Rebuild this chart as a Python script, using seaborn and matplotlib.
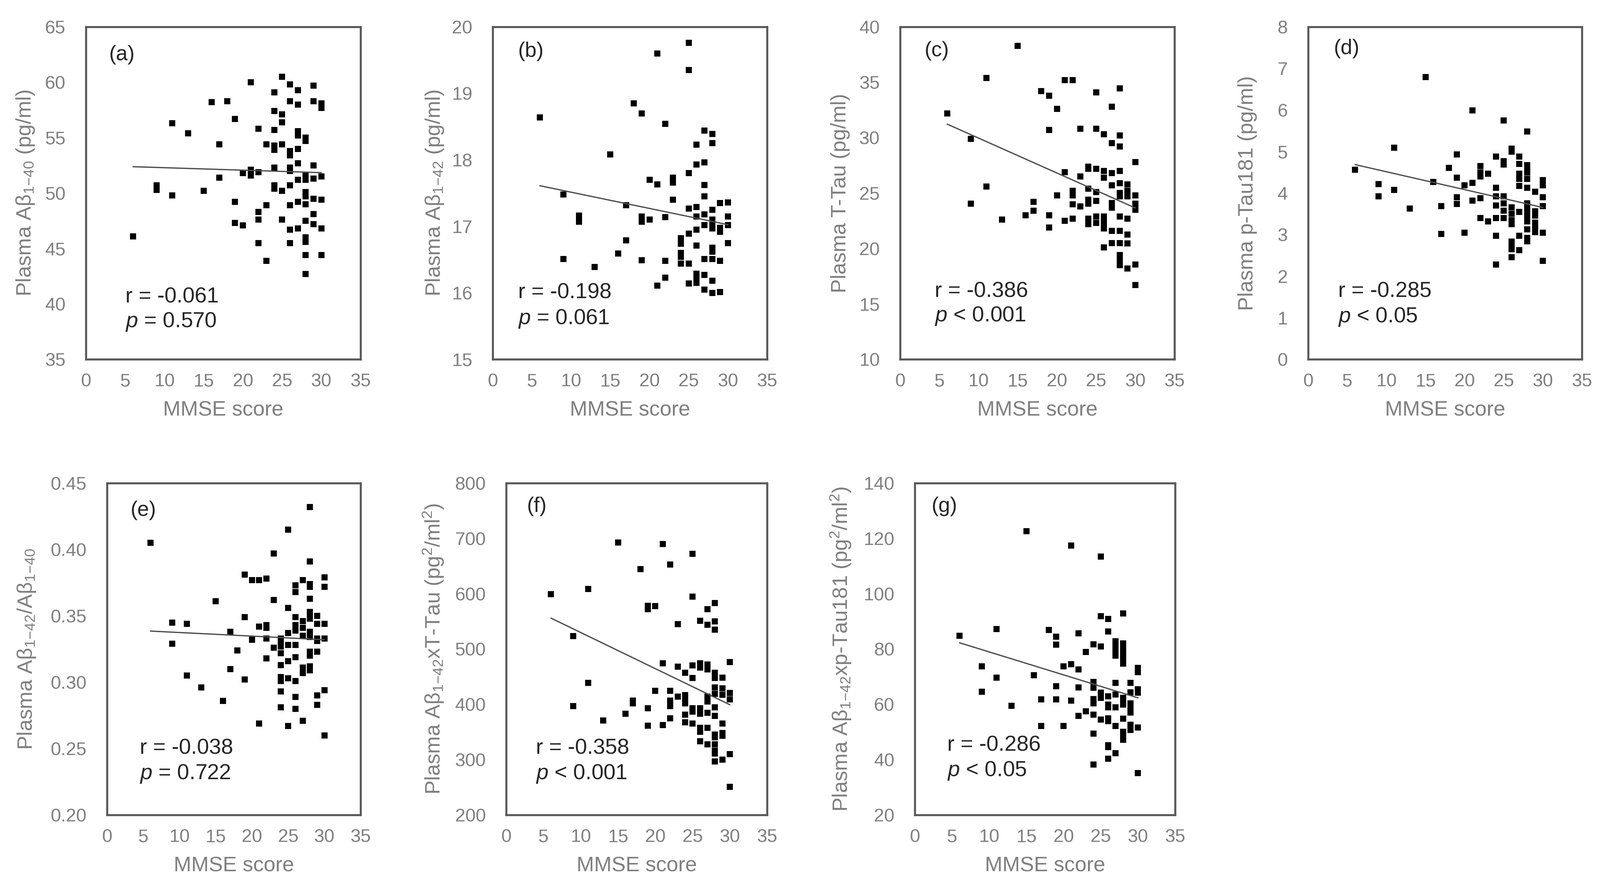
import matplotlib
matplotlib.use('Agg')
import matplotlib.pyplot as plt
import seaborn as sns
import pandas as pd

# ---------------- data (MMSE score -> plasma values) ----------------
abeta40_by_mmse = {
    6: [46.1], 9: [50.7, 50.3], 11: [56.3, 49.8], 13: [55.4], 15: [50.2], 16: [58.2],
    17: [54.4, 51.4], 18: [58.3], 19: [56.7, 49.2, 47.3], 20: [51.8, 47.1],
    21: [60.0, 52.1, 51.8, 51.6], 22: [55.8, 51.9, 48.3, 47.6, 45.5], 23: [54.4, 48.9, 43.9],
    24: [59.1, 57.4, 55.7, 54.3, 53.9, 52.3, 50.7, 50.4],
    25: [60.5, 57.1, 56.4, 54.4, 50.2, 47.6],
    26: [59.8, 58.3, 53.8, 53.4, 52.3, 52.0, 50.7, 48.9, 46.7, 45.5],
    27: [59.3, 58.0, 55.6, 55.2, 54.0, 52.7, 51.2, 49.2, 46.8],
    28: [55.0, 54.7, 51.6, 51.2, 50.1, 49.7, 49.0, 47.5, 46.0, 45.6, 44.4, 42.7],
    29: [59.7, 58.3, 52.5, 51.3, 49.5, 48.1, 47.2],
    30: [58.1, 57.7, 51.5, 49.4, 46.8, 44.4],
}
abeta42_by_mmse = {
    6: [18.64], 9: [17.48, 16.51], 11: [17.16, 17.07], 13: [16.39], 15: [18.08], 16: [16.59],
    17: [17.32, 16.79], 18: [18.85], 19: [18.70, 17.15, 17.07, 16.49], 20: [17.70, 17.10],
    21: [19.60, 17.63, 16.11], 22: [18.54, 17.14, 16.48, 16.23], 23: [17.73, 17.66, 17.40],
    24: [16.82, 16.74, 16.60, 16.54, 16.44],
    25: [19.76, 19.35, 17.80, 17.27, 16.89, 16.44, 16.14],
    26: [18.23, 17.93, 17.29, 17.15, 16.95, 16.71, 16.29, 16.23, 16.15],
    27: [18.44, 17.96, 17.62, 17.45, 17.18, 17.02, 16.51, 16.27, 16.05],
    28: [18.39, 18.25, 17.25, 17.10, 17.03, 16.97, 16.68, 16.62, 16.51, 16.18, 16.00],
    29: [17.35, 16.98, 16.92, 16.48, 16.01],
    30: [17.36, 17.15, 17.02, 16.75],
}
ttau_by_mmse = {
    6: [32.2], 9: [29.9, 24.05], 11: [35.4, 25.6], 13: [22.6], 15: [38.3], 16: [23.0],
    17: [24.2, 23.4], 18: [34.2], 19: [33.8, 30.7, 23.0, 21.9], 20: [32.6, 24.8],
    21: [35.2, 26.9, 22.5], 22: [35.2, 25.2, 24.8, 24.0, 22.7], 23: [30.8, 26.5, 23.8],
    24: [27.4, 27.2, 25.4, 24.4, 24.05, 22.7, 22.2],
    25: [34.1, 30.8, 27.2, 25.1, 24.3, 22.9, 22.3],
    26: [30.3, 27.0, 26.4, 22.9, 22.4, 22.1, 21.8, 20.1],
    27: [32.8, 29.5, 26.8, 25.7, 24.1, 23.7, 21.6, 20.5],
    28: [34.45, 30.2, 29.2, 27.0, 25.9, 25.0, 24.7, 22.9, 21.6, 20.5, 19.4, 18.95, 18.5],
    29: [25.8, 25.2, 24.7, 22.7, 21.25, 20.45, 18.2],
    30: [27.8, 24.8, 24.05, 23.5, 18.55, 16.7],
}
ptau_by_mmse = {
    6: [4.56], 9: [4.22, 3.92], 11: [5.09, 4.08], 13: [3.63], 15: [6.79], 16: [4.27],
    17: [3.69, 3.02], 18: [4.61], 19: [4.93, 4.37, 3.90, 3.74], 20: [4.19, 3.05],
    21: [5.99, 4.25, 3.82], 22: [4.65, 4.50, 4.40, 3.88, 3.40], 23: [4.47, 3.32],
    24: [4.88, 4.13, 3.92, 3.70, 3.40, 2.97, 2.28],
    25: [5.75, 4.77, 4.69, 3.92, 3.75, 3.58, 3.40],
    26: [5.07, 5.00, 3.66, 3.50, 3.35, 3.25, 2.83, 2.73, 2.65, 2.46],
    27: [4.88, 4.70, 4.47, 4.34, 4.17, 3.55, 2.97, 2.63],
    28: [5.48, 4.67, 4.57, 4.50, 4.34, 4.13, 3.75, 3.65, 3.55, 3.42, 3.32, 3.13, 2.92, 2.84],
    29: [4.03, 3.56, 3.46, 3.29, 3.19, 3.06],
    30: [4.31, 4.19, 3.90, 3.69, 3.05, 2.37],
}
ratio_by_mmse = {
    6: [0.405], 9: [0.345, 0.329], 11: [0.344, 0.305], 13: [0.296], 15: [0.361], 16: [0.286],
    17: [0.338, 0.310], 18: [0.324], 19: [0.381, 0.349, 0.302], 20: [0.377, 0.332],
    21: [0.377, 0.342, 0.269], 22: [0.378, 0.343, 0.341, 0.333, 0.318], 23: [0.397, 0.362, 0.326],
    24: [0.333, 0.330, 0.327, 0.322, 0.313, 0.304, 0.301, 0.293, 0.281],
    25: [0.415, 0.356, 0.337, 0.328, 0.316, 0.303, 0.267],
    26: [0.373, 0.368, 0.349, 0.343, 0.339, 0.328, 0.319, 0.301, 0.289, 0.280],
    27: [0.377, 0.346, 0.341, 0.335, 0.311, 0.307, 0.271],
    28: [0.432, 0.391, 0.374, 0.372, 0.363, 0.353, 0.350, 0.348, 0.338, 0.334, 0.323, 0.320,
         0.312, 0.309],
    29: [0.350, 0.344, 0.333, 0.331, 0.323, 0.290, 0.283],
    30: [0.379, 0.372, 0.344, 0.333, 0.294, 0.260],
}
a42xttau_by_mmse = {
    6: [599.5], 9: [523.5, 397], 11: [608.8, 438.7], 13: [371], 15: [692.6], 16: [383.3],
    17: [406.9, 402], 18: [644.6], 19: [578.4, 572, 393, 361.3], 20: [577.5, 424.5],
    21: [690.2, 474.5, 362.7], 22: [652.9, 424.5, 406.9, 397, 375], 23: [545, 468, 414.2],
    24: [457.4, 416.7, 409.3, 402, 381.4, 367.6],
    25: [672.5, 595, 470.6, 447.5, 393, 387, 365.2],
    26: [551.3, 474.5, 466.7, 393, 383.3, 357.8, 350.5, 333.3],
    27: [572, 544.1, 472.1, 463.2, 414.2, 405.4, 384.8, 357.8, 327.5],
    28: [583.3, 550, 535.3, 457.4, 447.5, 430.4, 419.1, 394.6, 378.9, 345.6, 340.7, 327.5,
         316.2, 311.3, 296.6],
    29: [448.5, 428.9, 417.6, 365.2, 348, 343.1, 300],
    30: [476.5, 420.6, 409.3, 309.8, 251],
}
a42xptau_by_mmse = {
    6: [84.8], 9: [73.7, 64.6], 11: [87.2, 69.7], 13: [59.5], 15: [122.6], 16: [70.5],
    17: [61.8, 52.2], 18: [86.9], 19: [84.5, 81.6, 66.6, 61.8], 20: [73.7, 52.2],
    21: [117.4, 74.5, 61.4], 22: [85.7, 72.6, 66.1, 55.8], 23: [78.9, 57.5],
    24: [81.7, 68.1, 66.0, 61.9, 60.4, 56.3, 49.4, 38.3],
    25: [113.5, 91.9, 80.9, 64.2, 62.4, 54.5],
    26: [90.9, 86.4, 62.9, 59.9, 58.9, 55.0, 54.0, 45.2, 44.5, 40.3],
    27: [82.8, 80.6, 78.9, 77.6, 67.8, 63.6, 58.9, 52.2, 42.3],
    28: [92.9, 82.0, 80.1, 78.6, 76.6, 74.7, 62.4, 61.1, 59.9, 54.8, 50.1, 48.6, 47.2],
    29: [67.8, 64.4, 60.4, 58.9, 57.0, 52.6, 50.8],
    30: [73.2, 71.7, 65.5, 64.2, 51.6, 35.1],
}

panel_letters = ['(a)', '(b)', '(c)', '(d)', '(e)', '(f)', '(g)']
y_labels = [
    'Plasma A\u03b2$_{1{-}40}$ (pg/ml)',
    'Plasma A\u03b2$_{1{-}42}$ (pg/ml)',
    'Plasma T-Tau (pg/ml)',
    'Plasma p-Tau181 (pg/ml)',
    'Plasma A\u03b2$_{1{-}42}$/A\u03b2$_{1{-}40}$',
    'Plasma A\u03b2$_{1{-}42}$xT-Tau (pg$^{2}$/ml$^{2}$)',
    'Plasma A\u03b2$_{1{-}42}$xp-Tau181 (pg$^{2}$/ml$^{2}$)',
]
r_texts = ['r = -0.061', 'r = -0.198', 'r = -0.386', 'r = -0.285',
           'r = -0.038', 'r = -0.358', 'r = -0.286']
p_texts = ['= 0.570', '= 0.061', '< 0.001', '< 0.05', '= 0.722', '< 0.001', '< 0.05']
y_ticks = [
    [35, 40, 45, 50, 55, 60, 65],
    [15, 16, 17, 18, 19, 20],
    [10, 15, 20, 25, 30, 35, 40],
    [0, 1, 2, 3, 4, 5, 6, 7, 8],
    [0.20, 0.25, 0.30, 0.35, 0.40, 0.45],
    [200, 300, 400, 500, 600, 700, 800],
    [20, 40, 60, 80, 100, 120, 140],
]
x_ticks = [0, 5, 10, 15, 20, 25, 30, 35]

datasets = [abeta40_by_mmse, abeta42_by_mmse, ttau_by_mmse, ptau_by_mmse,
            ratio_by_mmse, a42xttau_by_mmse, a42xptau_by_mmse]

# ---------------- layout (pixels in a 5231 x 2894 canvas) ----------------
W, H = 5231, 2894
# left, right, top, bottom (px)
boxes = [
    (281, 1179, 88, 1175), (1611, 2508, 88, 1175), (2943, 3840, 88, 1175), (4277, 5172, 88, 1175),
    (350, 1179, 1580, 2665), (1655, 2508, 1580, 2665), (2991, 3842, 1580, 2665),
]
ylab_off = [198, 190, 196, 199, 263, 238, 242]
letter_pos = [(0.084, 0.916), (0.092, 0.926), (0.089, 0.928), (0.094, 0.935),
              (0.092, 0.918), (0.080, 0.930), (0.064, 0.930)]
r_pos = [(0.144, 0.187, 0.113), (0.092, 0.200, 0.122), (0.126, 0.204, 0.130),
         (0.110, 0.204, 0.127), (0.129, 0.200, 0.124), (0.114, 0.200, 0.124),
         (0.125, 0.210, 0.133)]

sns.set_theme(style='white')
plt.rcParams['font.family'] = ['Liberation Sans', 'DejaVu Sans']
plt.rcParams['mathtext.fontset'] = 'custom'
plt.rcParams['mathtext.rm'] = 'Liberation Sans'
plt.rcParams['mathtext.it'] = 'Liberation Sans:italic'
plt.rcParams['mathtext.default'] = 'regular'

spine_col = '#595959'
label_col = '#7f7f7f'
text_col = '#262626'

fig = plt.figure(figsize=(W / 300, H / 300), dpi=300)
fig.patch.set_facecolor('white')

for i, data in enumerate(datasets):
    l, r, t, b = boxes[i]
    ax = fig.add_axes([l / W, 1 - b / H, (r - l) / W, (b - t) / H])
    rows = [(k, v) for k, vals in data.items() for v in vals]
    df = pd.DataFrame(rows, columns=['MMSE', 'value'])
    sns.regplot(data=df, x='MMSE', y='value', ax=ax, ci=None, marker='s', color='black',
                scatter_kws=dict(s=24, linewidths=0, color='black', alpha=1),
                line_kws=dict(color='#4d4d4d', lw=1.0))
    yt = y_ticks[i]
    ax.set_xlim(0, 35)
    ax.set_ylim(yt[0], yt[-1])
    ax.set_xticks(x_ticks)
    ax.set_yticks(yt)
    if i == 4:
        ax.set_yticklabels([f'{v:.2f}' for v in yt])
    else:
        ax.set_yticklabels([f'{v:g}' for v in yt])
    for s in ax.spines.values():
        s.set_visible(True)
        s.set_color(spine_col)
        s.set_linewidth(1.6)
    ax.tick_params(axis='both', direction='in', length=5, width=1.2, color=spine_col,
                   labelsize=14.5, labelcolor=label_col)
    ax.tick_params(axis='x', pad=11)
    ax.tick_params(axis='y', pad=16)
    ax.set_xlabel('MMSE score', fontsize=16.5, color=label_col, va='center')
    ax.xaxis.set_label_coords(0.5, -166 / (b - t))
    ax.set_ylabel(y_labels[i], fontsize=16.5, color=label_col, va='center')
    ax.yaxis.set_label_coords(-ylab_off[i] / (r - l), 0.5)
    lx, ly = letter_pos[i]
    ax.text(lx, ly, panel_letters[i], transform=ax.transAxes, fontsize=16.5,
            color=text_col, va='center', ha='left')
    rx, ry, py = r_pos[i]
    ax.text(rx, ry, r_texts[i], transform=ax.transAxes, fontsize=17,
            color=text_col, va='center', ha='left')
    ax.text(rx, py, '$\\mathit{p}$ ' + p_texts[i], transform=ax.transAxes, fontsize=17,
            color=text_col, va='center', ha='left')

fig.savefig('out.png', dpi=300, facecolor='white')
